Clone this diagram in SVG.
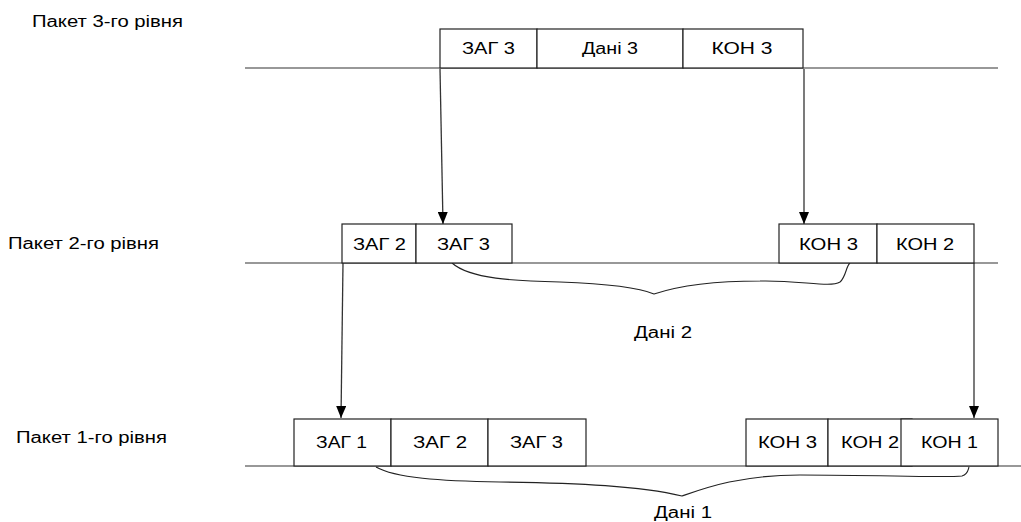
<svg xmlns="http://www.w3.org/2000/svg" width="1021" height="522" viewBox="0 0 1021 522">
<style>
text{font-family:"Liberation Sans",Arial,sans-serif;font-size:16px;fill:#000}
.c{text-anchor:middle}
.b{fill:#fff;stroke:#222;stroke-width:1.2}
.l{stroke:#333;stroke-width:1.2;fill:none}
.a{stroke:#333;stroke-width:1.3;fill:none;marker-end:url(#ah)}
.br{stroke:#222;stroke-width:1.1;fill:none}
</style>
<defs>
<marker id="ah" viewBox="0 0 12 10" refX="12" refY="5" markerWidth="12" markerHeight="10" markerUnits="userSpaceOnUse" orient="auto">
<path d="M0,0 L12,5 L0,10 z" fill="#000"/>
</marker>
</defs>
<rect width="1021" height="522" fill="#fff"/>
<g id="labels">
<text x="32" y="27" textLength="151" lengthAdjust="spacingAndGlyphs">Пакет 3-го рівня</text>
<text x="8" y="249" textLength="151" lengthAdjust="spacingAndGlyphs">Пакет 2-го рівня</text>
<text x="16" y="443" textLength="151" lengthAdjust="spacingAndGlyphs">Пакет 1-го рівня</text>
</g>
<g id="levels">
<line class="l" x1="245" y1="68" x2="998" y2="68"/>
<line class="l" x1="245" y1="263" x2="998" y2="263"/>
<line class="l" x1="245" y1="466" x2="1021" y2="466"/>
</g>
<g id="connectors">
<line class="a" x1="440" y1="69" x2="443" y2="224"/>
<line class="a" x1="804" y1="69" x2="804" y2="224"/>
<line class="a" x1="343" y1="263" x2="341" y2="418"/>
<line class="a" x1="974" y1="263" x2="974" y2="418"/>
<path class="br" d="M452,263 C470,279 515,281 560,282 C615,284 640,288 654,294 C672,288 705,281 760,281 C800,280 830,288 840,282 C846,277 846,266 850,263"/>
<path class="br" d="M376,467 C395,478 440,481 500,482 C580,483 640,486 682,496 C705,488 740,475 800,475 C880,475 945,478 962,476 C968,474 968,470 969,467"/>
</g>
<g id="l3">
<g id="zag3-top"><rect class="b" x="440" y="29" width="97" height="39"/><text class="c" x="488.5" y="54" textLength="53" lengthAdjust="spacingAndGlyphs">ЗАГ 3</text></g>
<g id="dani3"><rect class="b" x="537" y="29" width="146" height="39"/><text class="c" x="610" y="54" textLength="56" lengthAdjust="spacingAndGlyphs">Дані 3</text></g>
<g id="kon3-top"><rect class="b" x="683" y="29" width="120" height="39"/><text class="c" x="742" y="54" textLength="61" lengthAdjust="spacingAndGlyphs">КОН 3</text></g>
</g>
<g id="l2">
<g id="zag2-mid"><rect class="b" x="342" y="224" width="74" height="39"/><text class="c" x="379.5" y="250" textLength="53" lengthAdjust="spacingAndGlyphs">ЗАГ 2</text></g>
<g id="zag3-mid"><rect class="b" x="416" y="224" width="96" height="39"/><text class="c" x="463.5" y="250" textLength="53" lengthAdjust="spacingAndGlyphs">ЗАГ 3</text></g>
<g id="kon3-mid"><rect class="b" x="779" y="224" width="98" height="39"/><text class="c" x="828.5" y="250" textLength="59" lengthAdjust="spacingAndGlyphs">КОН 3</text></g>
<g id="kon2-mid"><rect class="b" x="877" y="224" width="97" height="39"/><text class="c" x="925" y="250" textLength="58" lengthAdjust="spacingAndGlyphs">КОН 2</text></g>
<text class="c" x="663" y="338" textLength="58" lengthAdjust="spacingAndGlyphs">Дані 2</text>
</g>
<g id="l1">
<g id="zag1"><rect class="b" x="294" y="419" width="97" height="47"/><text class="c" x="341.5" y="448" textLength="51" lengthAdjust="spacingAndGlyphs">ЗАГ 1</text></g>
<g id="zag2-bot"><rect class="b" x="391" y="419" width="97" height="47"/><text class="c" x="440" y="448" textLength="54" lengthAdjust="spacingAndGlyphs">ЗАГ 2</text></g>
<g id="zag3-bot"><rect class="b" x="488" y="419" width="98" height="47"/><text class="c" x="536.5" y="448" textLength="53" lengthAdjust="spacingAndGlyphs">ЗАГ 3</text></g>
<g id="kon3-bot"><rect class="b" x="746" y="419" width="82" height="47"/><text class="c" x="787.5" y="448" textLength="59" lengthAdjust="spacingAndGlyphs">КОН 3</text></g>
<g id="kon2-bot"><rect class="b" x="828" y="419" width="84" height="47"/><text class="c" x="870" y="448" textLength="58" lengthAdjust="spacingAndGlyphs">КОН 2</text></g>
<g id="kon1-bot"><rect class="b" x="901" y="419" width="97" height="47"/><text class="c" x="949.5" y="448" textLength="57" lengthAdjust="spacingAndGlyphs">КОН 1</text></g>
<text class="c" x="683" y="518" textLength="58" lengthAdjust="spacingAndGlyphs">Дані 1</text>
</g>
</svg>
